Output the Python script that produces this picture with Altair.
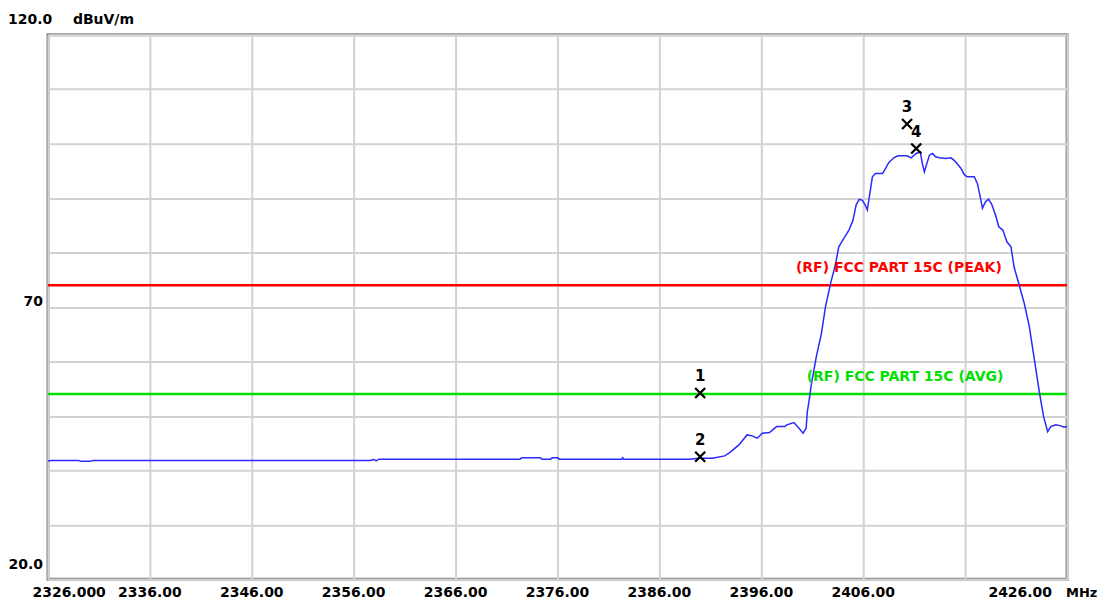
import altair as alt
import pandas as pd

# ---- data ----
freq = [2326.0, 2326.3, 2329.0, 2329.3, 2330.1, 2330.4, 2357.6, 2358.0, 2358.2, 2358.5,
        2372.3, 2372.5, 2374.3, 2374.5, 2375.3, 2375.5, 2376.0, 2376.2, 2382.3, 2382.4,
        2382.5, 2389.0, 2389.9, 2391.2, 2392.4, 2392.9, 2393.8, 2394.6, 2395.1, 2395.6,
        2396.1, 2396.8, 2397.5, 2398.3, 2398.5, 2399.2, 2399.7, 2400.1, 2400.4, 2400.5,
        2400.7, 2400.9, 2401.4, 2401.9, 2402.3, 2402.8, 2403.3, 2403.6, 2404.1, 2404.6,
        2405.0, 2405.3, 2405.6, 2405.9, 2406.2, 2406.4, 2406.6, 2406.9, 2407.2, 2407.9,
        2408.2, 2408.5, 2409.0, 2409.4, 2410.3, 2410.7, 2411.2, 2411.6, 2411.8, 2412.0,
        2412.2, 2412.5, 2412.8, 2413.1, 2413.5, 2414.1, 2414.6, 2414.9, 2415.2, 2415.6,
        2415.9, 2416.2, 2416.9, 2417.2, 2417.5, 2417.7, 2418.0, 2418.3, 2418.6, 2419.0,
        2419.3, 2419.7, 2420.1, 2420.5, 2420.8, 2421.3, 2421.8, 2422.3, 2422.8, 2423.3,
        2423.7, 2424.1, 2424.4, 2424.9, 2425.4, 2425.7, 2426.0]
level = [41.7, 41.8, 41.8, 41.65, 41.65, 41.8, 41.8, 42.0, 41.75, 42.05,
         42.05, 42.3, 42.3, 42.05, 42.05, 42.3, 42.3, 42.05, 42.05, 42.3,
         42.05, 42.05, 42.2, 42.24, 42.66, 43.27, 44.68, 46.51, 46.33, 45.91,
         46.83, 46.94, 48.04, 48.04, 48.35, 48.77, 47.74, 46.83, 47.74, 50.55,
         52.94, 55.69, 60.88, 65.17, 70.06, 74.35, 78.02, 81.06, 82.61, 84.13,
         85.96, 88.72, 89.76, 89.63, 88.72, 87.8, 90.24, 93.91, 94.53, 94.53,
         95.45, 96.51, 97.4, 97.76, 97.76, 97.4, 98.2, 98.5, 96.37, 94.83,
         96.06, 97.89, 98.2, 97.58, 97.4, 97.28, 97.4, 96.97, 96.37, 95.45,
         94.35, 93.91, 93.94, 92.7, 90.09, 88.11, 89.32, 89.82, 88.9, 86.79,
         84.73, 84.13, 81.98, 81.06, 77.39, 74.04, 70.68, 66.39, 60.28, 54.17,
         49.87, 47.12, 48.04, 48.35, 48.17, 47.93, 48.04]

limit_values = [74, 54]
limit_labels = ["(RF) FCC PART 15C (PEAK)", "(RF) FCC PART 15C (AVG)"]
limit_colors = ["#ff0000", "#00e000"]
limit_label_freq = [2409.5, 2410.1]

marker_ids = ["1", "2", "3", "4"]
marker_freq = [2390.0, 2390.0, 2410.3, 2411.2]
marker_level = [54.2, 42.5, 103.6, 99.1]

x_grid = [2326, 2336, 2346, 2356, 2366, 2376, 2386, 2396, 2406, 2416, 2426]
y_grid = [20, 30, 40, 50, 60, 70, 80, 90, 100, 110, 120]
x_mid_ticks = [2336, 2346, 2356, 2366, 2376, 2386, 2396, 2406]
x_mid_labels = ["2336.00", "2346.00", "2356.00", "2366.00", "2376.00", "2386.00", "2396.00", "2406.00"]
x_first_tick, x_first_label = 2326, "2326.000"
x_last_tick, x_last_label = 2426, "2426.00"
x_unit = "MHz"
y_unit = "dBuV/m"
y_top_label, y_mid_tick, y_mid_label, y_bot_label = "120.0", 70, "70", "20.0"

W, H = 1020, 545
FONT = "DejaVu Sans"

trace_df = pd.DataFrame({"f": freq, "lvl": level})
limit_df = pd.DataFrame({"lvl": limit_values, "label": limit_labels,
                         "color": limit_colors, "f": limit_label_freq})
marker_df = pd.DataFrame({"id": marker_ids, "f": marker_freq, "lvl": marker_level})

xs = alt.Scale(domain=[2326, 2426], nice=False, zero=False)
ys = alt.Scale(domain=[20, 120], nice=False, zero=False)

x_axis = alt.Axis(values=x_grid, labels=False, ticks=False, domain=False, title=None,
                  grid=True, gridColor="#d2d2d2", gridWidth=2)
y_axis = alt.Axis(values=y_grid, labels=False, ticks=False, domain=False, title=None,
                  grid=True, gridColor="#d2d2d2", gridWidth=2)

X = alt.X("f:Q", scale=xs, axis=x_axis)
Y = alt.Y("lvl:Q", scale=ys, axis=y_axis)

trace = alt.Chart(trace_df).mark_line(color="#2a2aff", strokeWidth=1.5).encode(x=X, y=Y)

rules = alt.Chart(limit_df).mark_rule(strokeWidth=2.5).encode(
    y=alt.Y("lvl:Q", scale=ys), color=alt.Color("color:N", scale=None))

limit_text = alt.Chart(limit_df).mark_text(
    font=FONT, fontSize=14, fontWeight="bold", dy=-17, align="center", baseline="middle"
).encode(x=alt.X("f:Q", scale=xs), y=alt.Y("lvl:Q", scale=ys),
         text="label:N", color=alt.Color("color:N", scale=None))

markers = alt.Chart(marker_df).mark_point(
    shape="M-1,-1L1,1M1,-1L-1,1", size=100, stroke="black", strokeWidth=2.3, filled=False,
    opacity=1
).encode(x=alt.X("f:Q", scale=xs), y=alt.Y("lvl:Q", scale=ys))

marker_text = alt.Chart(marker_df).mark_text(
    font=FONT, fontSize=15, fontWeight="bold", dy=-17, color="black", baseline="middle"
).encode(x=alt.X("f:Q", scale=xs), y=alt.Y("lvl:Q", scale=ys), text="id:N")

lab_style = dict(font=FONT, fontSize=14, fontWeight="bold", color="black", baseline="middle")

xmid = alt.Chart(pd.DataFrame({"f": x_mid_ticks, "t": x_mid_labels})).mark_text(
    align="center", **lab_style).encode(x=alt.X("f:Q", scale=xs), y=alt.value(H + 13.5), text="t:N")
xfirst = alt.Chart(pd.DataFrame({"f": [x_first_tick], "t": [x_first_label]})).mark_text(
    align="left", dx=-15.5, **lab_style).encode(x=alt.X("f:Q", scale=xs), y=alt.value(H + 13.5), text="t:N")
xlast = alt.Chart(pd.DataFrame({"f": [x_last_tick], "t": [x_last_label]})).mark_text(
    align="right", dx=-15, **lab_style).encode(x=alt.X("f:Q", scale=xs), y=alt.value(H + 13.5), text="t:N")
xunit = alt.Chart(pd.DataFrame({"t": [x_unit]})).mark_text(
    align="left", font=FONT, fontSize=13, fontWeight="bold", color="black", baseline="middle"
).encode(x=alt.value(W - 1), y=alt.value(H + 13.5), text="t:N")

ytop = alt.Chart(pd.DataFrame({"t": [y_top_label]})).mark_text(
    align="left", **lab_style).encode(x=alt.value(-40), y=alt.value(-14.5), text="t:N")
yunit = alt.Chart(pd.DataFrame({"t": [y_unit]})).mark_text(
    align="left", **lab_style).encode(x=alt.value(25), y=alt.value(-14.5), text="t:N")
ymid = alt.Chart(pd.DataFrame({"lvl": [y_mid_tick], "t": [y_mid_label]})).mark_text(
    align="right", dy=-5, **lab_style).encode(x=alt.value(-5), y=alt.Y("lvl:Q", scale=ys), text="t:N")
ybot = alt.Chart(pd.DataFrame({"lvl": [20], "t": [y_bot_label]})).mark_text(
    align="right", dy=-14.5, **lab_style).encode(x=alt.value(-5), y=alt.Y("lvl:Q", scale=ys), text="t:N")

chart = alt.layer(
    rules, trace, limit_text, markers, marker_text,
    xmid, xfirst, xlast, xunit, ytop, yunit, ymid, ybot
).properties(
    width=W, height=H,
    autosize=alt.AutoSizeParams(type="none"),
    padding={"left": 40, "top": 26.5, "right": 35, "bottom": 22},
    background="white",
).configure_view(stroke="#858585", strokeWidth=3)

chart.save("out.html", embed_options={"renderer": "svg", "actions": False})
